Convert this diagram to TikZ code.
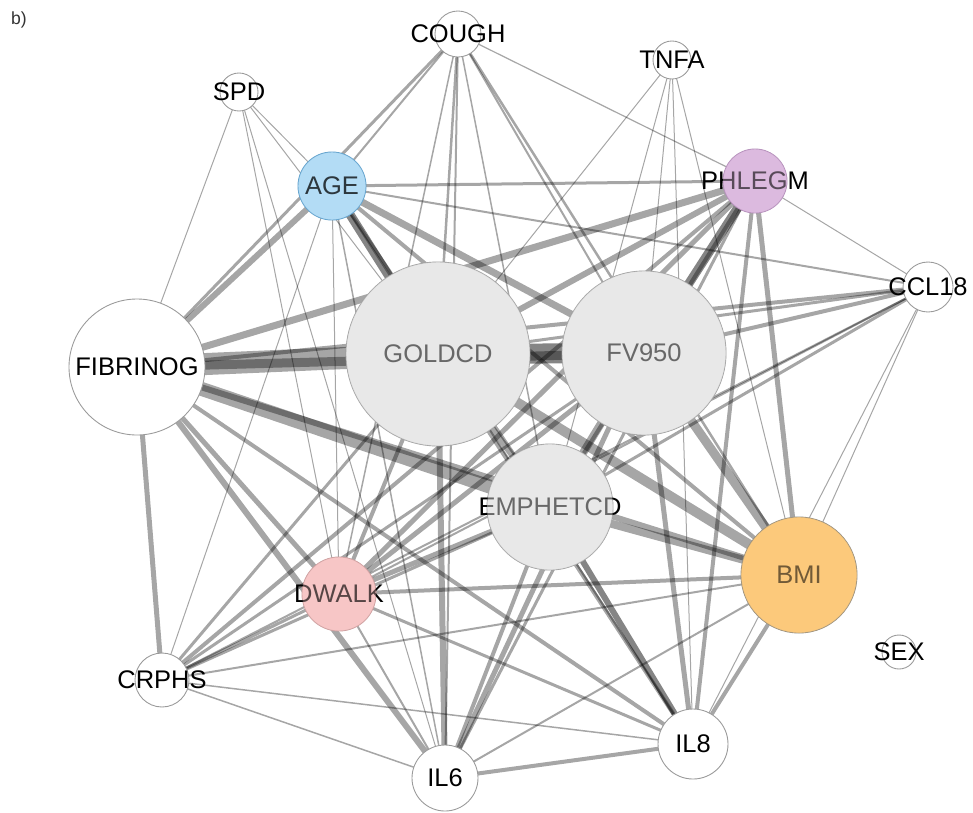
\documentclass[tikz,border=0pt]{standalone}
\usepackage{fontspec}
\setmainfont{Liberation Sans}
\usetikzlibrary{backgrounds}
\definecolor{nodegray}{HTML}{E8E8E8}
\definecolor{rimgray}{HTML}{9A9A9A}
\definecolor{agefill}{HTML}{B3DCF5}
\definecolor{agerim}{HTML}{5E9FCB}
\definecolor{phlegmfill}{HTML}{DCBADF}
\definecolor{phlegmrim}{HTML}{B08AB6}
\definecolor{bmifill}{HTML}{FCC97B}
\definecolor{bmirim}{HTML}{8E8A80}
\definecolor{dwalkfill}{HTML}{F7C6C6}
\definecolor{dwalkrim}{HTML}{C99C9C}

\begin{document}
\begin{tikzpicture}[x=0.2mm,y=-0.2mm,
  vtx/.style={circle,draw=rimgray,fill=white,line width=0.5pt,inner sep=0pt},
  gvtx/.style={vtx,fill=nodegray},
  veil/.style={circle,inner sep=0pt,fill=#1,fill opacity=.45},
  lnk/.style={draw=black,draw opacity=.35,line width=#1*0.2mm},
  dk/.style={draw=black,draw opacity=.48,line width=#1*0.2mm},
  every label/.style={font=\fontsize{14.5}{16}\selectfont,inner sep=0pt,text=black}
]
\useasboundingbox (0,0) rectangle (973,812);

\node[font=\fontsize{10}{12}\selectfont,text=black!80] (tag) at (19,20) {b)};

% white variables
\node[vtx,minimum size=9.2mm,label=center:COUGH] (cough) at (458,34) {};
\node[vtx,minimum size=7.6mm,label=center:TNFA] (tnfa) at (672,60) {};
\node[vtx,minimum size=7.6mm,label=center:SPD] (spd) at (239,92) {};
\node[vtx,minimum size=10mm,label=center:CCL18] (ccl) at (928,287) {};
\node[vtx,minimum size=27.2mm,label=center:FIBRINOG] (fib) at (137,367) {};
\node[vtx,minimum size=6.8mm,label=center:SEX] (sex) at (899,652) {};
\node[vtx,minimum size=10.8mm,label=center:CRPHS] (crphs) at (162,680) {};
\node[vtx,minimum size=14mm,label=center:IL8] (il8) at (693,744) {};
\node[vtx,minimum size=13.2mm,label=center:IL6] (il6) at (445,778) {};

% imaging variables
\node[gvtx,minimum size=36.8mm,label=center:GOLDCD] (gold) at (438,354) {};
\node[veil=nodegray,minimum size=36.8mm] (goldv) at (gold) {};
\node[gvtx,minimum size=32.8mm,label=center:FV950] (fv) at (644,353) {};
\node[veil=nodegray,minimum size=32.8mm] (fvv) at (fv) {};
\node[gvtx,minimum size=25.2mm,label=center:EMPHETCD] (emph) at (550,507) {};
\node[veil=nodegray,minimum size=25.2mm] (emphv) at (emph) {};

% coloured ones
\node[vtx,draw=agerim,fill=agefill,minimum size=13.6mm,label=center:AGE] (age) at (332,186) {};
\node[veil=agefill,fill opacity=.25,minimum size=13.6mm] (agev) at (age) {};
\node[vtx,draw=phlegmrim,fill=phlegmfill,minimum size=12.8mm,label=center:PHLEGM] (phlegm) at (755,181) {};
\node[veil=phlegmfill,fill opacity=.4,minimum size=12.8mm] (phlegmv) at (phlegm) {};
\node[vtx,draw=bmirim,fill=bmifill,minimum size=23.2mm,label=center:BMI] (bmi) at (799,575) {};
\node[veil=bmifill,minimum size=23.2mm] (bmiv) at (bmi) {};
\node[vtx,draw=dwalkrim,fill=dwalkfill,minimum size=14.8mm,label=center:DWALK] (dwalk) at (339,594) {};
\node[veil=dwalkfill,fill opacity=.35,minimum size=14.8mm] (dwalkv) at (dwalk) {};

\begin{pgfonlayer}{background}
\foreach \a/\b/\w in {fib/spd/1,fib/age/6,fib/cough/3,fib/gold/22,fib/fv/9,fib/phlegm/7,
  fib/ccl/4,fib/emph/14,fib/bmi/6,fib/il8/4,fib/dwalk/5,fib/il6/6,fib/crphs/5,
  spd/age/1,spd/gold/1,spd/dwalk/1,spd/il6/1,
  cough/age/2,cough/dwalk/1.5,cough/gold/2.5,cough/il6/2,cough/emph/1.5,cough/fv/2,
  cough/bmi/2.5,cough/phlegm/1.2,
  tnfa/gold/1,tnfa/emph/1,tnfa/fv/1,tnfa/il8/1,tnfa/bmi/1,
  age/phlegm/3,age/ccl/2,age/crphs/1,age/dwalk/1,age/il6/1.5,age/fv/7,age/emph/3,
  age/il8/2,age/bmi/4,
  phlegm/ccl/1,phlegm/il8/4,phlegm/bmi/5,phlegm/gold/6,phlegm/emph/4,phlegm/dwalk/5,
  phlegm/crphs/4,phlegm/il6/3,
  ccl/gold/3,ccl/fv/4,ccl/emph/3,ccl/dwalk/2,ccl/bmi/1,ccl/il8/1,ccl/crphs/2,
  gold/emph/6,gold/bmi/10,gold/dwalk/4,gold/crphs/3,gold/il6/6,gold/il8/4,
  fv/emph/8,fv/bmi/9,fv/dwalk/5,fv/crphs/3,fv/il6/5,fv/il8/5,
  emph/bmi/8,emph/dwalk/5,emph/crphs/3,emph/il6/4,
  dwalk/bmi/4,dwalk/crphs/3,dwalk/il6/2,dwalk/il8/3,
  bmi/il8/4,bmi/il6/2,bmi/crphs/2,crphs/il8/1.5,crphs/il6/1.5,il6/il8/4}
  \draw[lnk=\w] (\a.center) -- (\b.center);
\foreach \a/\b/\w in {age/gold/9,phlegm/fv/9,gold/fv/20,emph/il8/6}
  \draw[dk=\w] (\a.center) -- (\b.center);
\end{pgfonlayer}
\end{tikzpicture}
\end{document}
